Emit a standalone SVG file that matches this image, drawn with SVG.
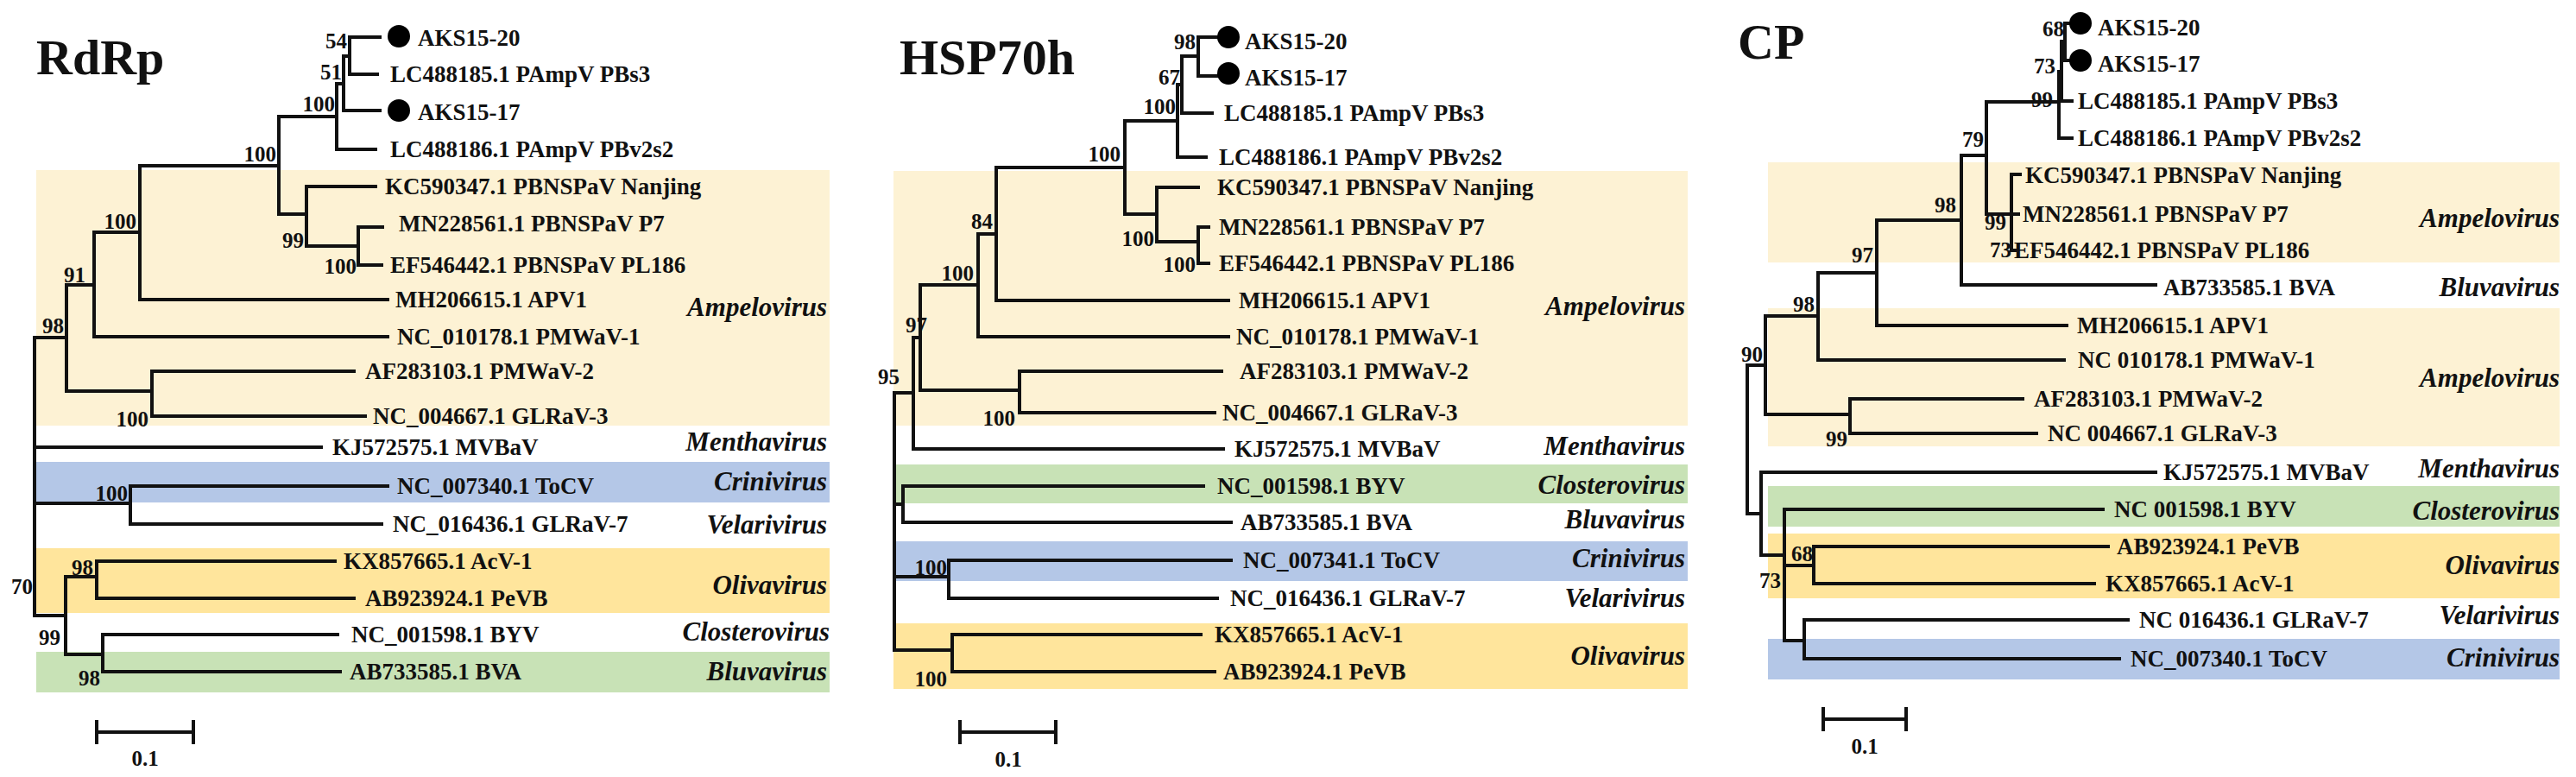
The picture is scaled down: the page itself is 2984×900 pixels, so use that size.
<svg xmlns="http://www.w3.org/2000/svg" width="2984" height="900" viewBox="0 0 2984 900">
<style>
text{font-family:"Liberation Serif","Times New Roman",serif;fill:#111}
.t{font-size:58px;font-weight:bold}
.l{font-size:27px;font-weight:bold}
.b{font-size:25px;font-weight:bold;text-anchor:end}
.g{font-size:31px;font-weight:bold;font-style:italic;text-anchor:end}
.s{font-size:25px;font-weight:bold;text-anchor:middle}
.e{fill:none;stroke:#111;stroke-width:4;stroke-linecap:square}
.am{fill:#fdf2d4}.cr{fill:#b4c7e7}.ol{fill:#ffe59c}.gr{fill:#c8e2b6}
</style>
<rect width="2984" height="900" fill="#fff"/>
<g id="backgrounds">
<rect class="am" x="42" y="197" width="919" height="296"/>
<rect class="cr" x="42" y="535" width="919" height="47"/>
<rect class="ol" x="42" y="635" width="919" height="75"/>
<rect class="gr" x="42" y="755" width="919" height="47"/>
<rect class="am" x="1035" y="198" width="920" height="295"/>
<rect class="gr" x="1035" y="538" width="920" height="45"/>
<rect class="cr" x="1035" y="627" width="920" height="46"/>
<rect class="ol" x="1035" y="722" width="920" height="76"/>
<rect class="am" x="2048" y="188" width="917" height="116"/>
<rect class="am" x="2048" y="357" width="917" height="160"/>
<rect class="gr" x="2048" y="563" width="917" height="47"/>
<rect class="ol" x="2048" y="618" width="917" height="75"/>
<rect class="cr" x="2048" y="740" width="917" height="47"/>
</g>
<g id="connectors">
<path class="e" d="M405 43H440M405 86H437M405 43V86M398 65H405M398 65V128M398 128H440M390 97H398M390 97V173M390 173H435M323 135H390M323 135V248M323 248H355M355 216V285M355 216H435M355 285H415M415 263V307M415 263H443M415 307H442M162 192H323M162 192V347M162 347H449M109 269H162M109 269V390M109 390H449M77 330H109M77 330V453M77 453H176M176 430V482M176 430H410M176 482H423M40 391H77M40 391V713M40 518H372M40 583H151M151 563V607M151 563H449M151 607H442M40 713H76M76 668V758M76 668H112M112 650V693M112 650H388M112 693H410M76 758H119M119 735V778M119 735H391M119 778H394"/>
<path class="e" d="M1388 43H1415M1388 88H1415M1388 43V88M1369 65H1388M1369 65V131M1369 131H1404M1364 98H1369M1364 98V182M1364 182H1397M1303 140H1364M1303 140V248M1303 248H1340M1340 217V280M1340 217H1388M1340 280H1388M1388 263V305M1388 263H1400M1388 305H1400M1154 194H1303M1154 194V348M1154 348H1423M1133 271H1154M1133 271V390M1133 390H1423M1066 330H1133M1066 330V452M1066 452H1181M1181 430V478M1181 430H1415M1181 478H1407M1058 391H1066M1058 391V520M1058 520H1417M1036 455H1058M1036 455V753M1036 584H1046M1046 563V605M1046 563H1394M1046 605H1426M1036 668H1099M1099 649V693M1099 649H1426M1099 693H1410M1036 753H1103M1103 735V778M1103 735H1391M1103 778H1407"/>
<path class="e" d="M2392 27V70M2392 27H2397M2392 70H2397M2388 48H2392M2388 48V117M2388 117H2400M2385 83H2388M2385 83V160M2385 160H2400M2301 118H2385M2301 118V248M2301 248H2330M2330 202V290M2330 202H2340M2330 248H2338M2330 290H2334M2272 180H2301M2272 180V330M2272 330H2497M2174 255H2272M2174 255V377M2174 377H2394M2106 316H2174M2106 316V417M2106 417H2391M2045 366H2106M2045 366V480M2045 480H2143M2143 462V502M2143 462H2343M2143 502H2359M2024 423H2045M2024 423V595M2024 595H2040M2040 547V643M2040 547H2497M2040 643H2067M2067 590V742M2067 590H2436M2067 655H2101M2101 633V676M2101 633H2442M2101 676H2426M2067 742H2090M2090 718V763M2090 718H2465M2090 763H2455"/>
<path class="e" d="M112 848H224M112 836V860M224 836V860M1112 848H1223M1112 836V860M1223 836V860M2112 833H2208M2112 821V845M2208 821V845"/>
</g>
<g id="panel-rdrp">
<text class="t" x="42" y="86">RdRp</text>
<circle cx="462" cy="42" r="13" fill="#000"/><circle cx="462" cy="128" r="13" fill="#000"/>
<g class="l">
<text x="484" y="53">AKS15-20</text>
<text x="452" y="95">LC488185.1 PAmpV PBs3</text>
<text x="484" y="139">AKS15-17</text>
<text x="452" y="182">LC488186.1 PAmpV PBv2s2</text>
<text x="446" y="225">KC590347.1 PBNSPaV Nanjing</text>
<text x="462" y="268">MN228561.1 PBNSPaV P7</text>
<text x="452" y="316">EF546442.1 PBNSPaV PL186</text>
<text x="458" y="356">MH206615.1 APV1</text>
<text x="460" y="399">NC_010178.1 PMWaV-1</text>
<text x="423" y="439">AF283103.1 PMWaV-2</text>
<text x="432" y="491">NC_004667.1 GLRaV-3</text>
<text x="385" y="527">KJ572575.1 MVBaV</text>
<text x="460" y="572">NC_007340.1 ToCV</text>
<text x="455" y="616">NC_016436.1 GLRaV-7</text>
<text x="398" y="659">KX857665.1 AcV-1</text>
<text x="423" y="702">AB923924.1 PeVB</text>
<text x="407" y="744">NC_001598.1 BYV</text>
<text x="405" y="787">AB733585.1 BVA</text>
</g>
<g class="b">
<text x="402" y="56">54</text><text x="396" y="92">51</text><text x="388" y="129">100</text>
<text x="320" y="187">100</text><text x="352" y="287">99</text><text x="413" y="317">100</text>
<text x="158" y="265">100</text><text x="99" y="327">91</text><text x="74" y="386">98</text>
<text x="172" y="494">100</text><text x="148" y="580">100</text><text x="38" y="688">70</text>
<text x="108" y="666">98</text><text x="70" y="747">99</text><text x="116" y="794">98</text>
</g>
<g class="g">
<text x="958" y="366">Ampelovirus</text><text x="958" y="522">Menthavirus</text>
<text x="958" y="568">Crinivirus</text><text x="958" y="618">Velarivirus</text>
<text x="958" y="688">Olivavirus</text><text x="961" y="742">Closterovirus</text>
<text x="958" y="788">Bluvavirus</text>
</g>
<text class="s" x="168" y="887">0.1</text>
</g>
<g id="panel-hsp70h">
<text class="t" x="1042" y="86">HSP70h</text>
<circle cx="1423" cy="43" r="13" fill="#000"/><circle cx="1423" cy="85" r="13" fill="#000"/>
<g class="l">
<text x="1442" y="57">AKS15-20</text>
<text x="1442" y="99">AKS15-17</text>
<text x="1418" y="140">LC488185.1 PAmpV PBs3</text>
<text x="1412" y="191">LC488186.1 PAmpV PBv2s2</text>
<text x="1410" y="226">KC590347.1 PBNSPaV Nanjing</text>
<text x="1412" y="272">MN228561.1 PBNSPaV P7</text>
<text x="1412" y="314">EF546442.1 PBNSPaV PL186</text>
<text x="1435" y="357">MH206615.1 APV1</text>
<text x="1432" y="399">NC_010178.1 PMWaV-1</text>
<text x="1436" y="439">AF283103.1 PMWaV-2</text>
<text x="1416" y="487">NC_004667.1 GLRaV-3</text>
<text x="1430" y="529">KJ572575.1 MVBaV</text>
<text x="1410" y="572">NC_001598.1 BYV</text>
<text x="1437" y="614">AB733585.1 BVA</text>
<text x="1440" y="658">NC_007341.1 ToCV</text>
<text x="1425" y="702">NC_016436.1 GLRaV-7</text>
<text x="1407" y="744">KX857665.1 AcV-1</text>
<text x="1417" y="787">AB923924.1 PeVB</text>
</g>
<g class="b">
<text x="1385" y="57">98</text><text x="1367" y="98">67</text><text x="1362" y="132">100</text>
<text x="1298" y="187">100</text><text x="1337" y="285">100</text><text x="1385" y="315">100</text>
<text x="1150" y="265">84</text><text x="1128" y="325">100</text><text x="1074" y="385">97</text>
<text x="1042" y="445">95</text><text x="1176" y="493">100</text><text x="1097" y="666">100</text>
<text x="1097" y="795">100</text>
</g>
<g class="g">
<text x="1952" y="365">Ampelovirus</text><text x="1952" y="527">Menthavirus</text>
<text x="1952" y="572">Closterovirus</text><text x="1952" y="612">Bluvavirus</text>
<text x="1952" y="657">Crinivirus</text><text x="1952" y="703">Velarivirus</text>
<text x="1952" y="770">Olivavirus</text>
</g>
<text class="s" x="1168" y="888">0.1</text>
</g>
<g id="panel-cp">
<text class="t" x="2013" y="68">CP</text>
<circle cx="2410" cy="27" r="13" fill="#000"/><circle cx="2410" cy="70" r="13" fill="#000"/>
<g class="l">
<text x="2430" y="41">AKS15-20</text>
<text x="2430" y="83">AKS15-17</text>
<text x="2407" y="126">LC488185.1 PAmpV PBs3</text>
<text x="2407" y="169">LC488186.1 PAmpV PBv2s2</text>
<text x="2346" y="212">KC590347.1 PBNSPaV Nanjing</text>
<text x="2343" y="257">MN228561.1 PBNSPaV P7</text>
<text x="2333" y="299">EF546442.1 PBNSPaV PL186</text>
<text x="2506" y="342">AB733585.1 BVA</text>
<text x="2406" y="386">MH206615.1 APV1</text>
<text x="2407" y="426">NC 010178.1 PMWaV-1</text>
<text x="2356" y="471">AF283103.1 PMWaV-2</text>
<text x="2372" y="511">NC 004667.1 GLRaV-3</text>
<text x="2506" y="556">KJ572575.1 MVBaV</text>
<text x="2449" y="599">NC 001598.1 BYV</text>
<text x="2452" y="642">AB923924.1 PeVB</text>
<text x="2439" y="685">KX857665.1 AcV-1</text>
<text x="2478" y="727">NC 016436.1  GLRaV-7</text>
<text x="2468" y="772">NC_007340.1 ToCV</text>
</g>
<g class="b">
<text x="2391" y="42">68</text><text x="2381" y="85">73</text><text x="2378" y="124">99</text>
<text x="2298" y="170">79</text><text x="2266" y="246">98</text><text x="2324" y="266">99</text>
<text x="2330" y="298">73</text><text x="2170" y="304">97</text><text x="2102" y="361">98</text>
<text x="2042" y="419">90</text><text x="2140" y="517">99</text><text x="2100" y="650">68</text>
<text x="2063" y="681">73</text>
</g>
<g class="g">
<text x="2965" y="263">Ampelovirus</text><text x="2965" y="343">Bluvavirus</text>
<text x="2965" y="448">Ampelovirus</text><text x="2965" y="553">Menthavirus</text>
<text x="2965" y="602">Closterovirus</text><text x="2965" y="665">Olivavirus</text>
<text x="2965" y="723">Velarivirus</text><text x="2965" y="772">Crinivirus</text>
</g>
<text class="s" x="2160" y="873">0.1</text>
</g>
</svg>
